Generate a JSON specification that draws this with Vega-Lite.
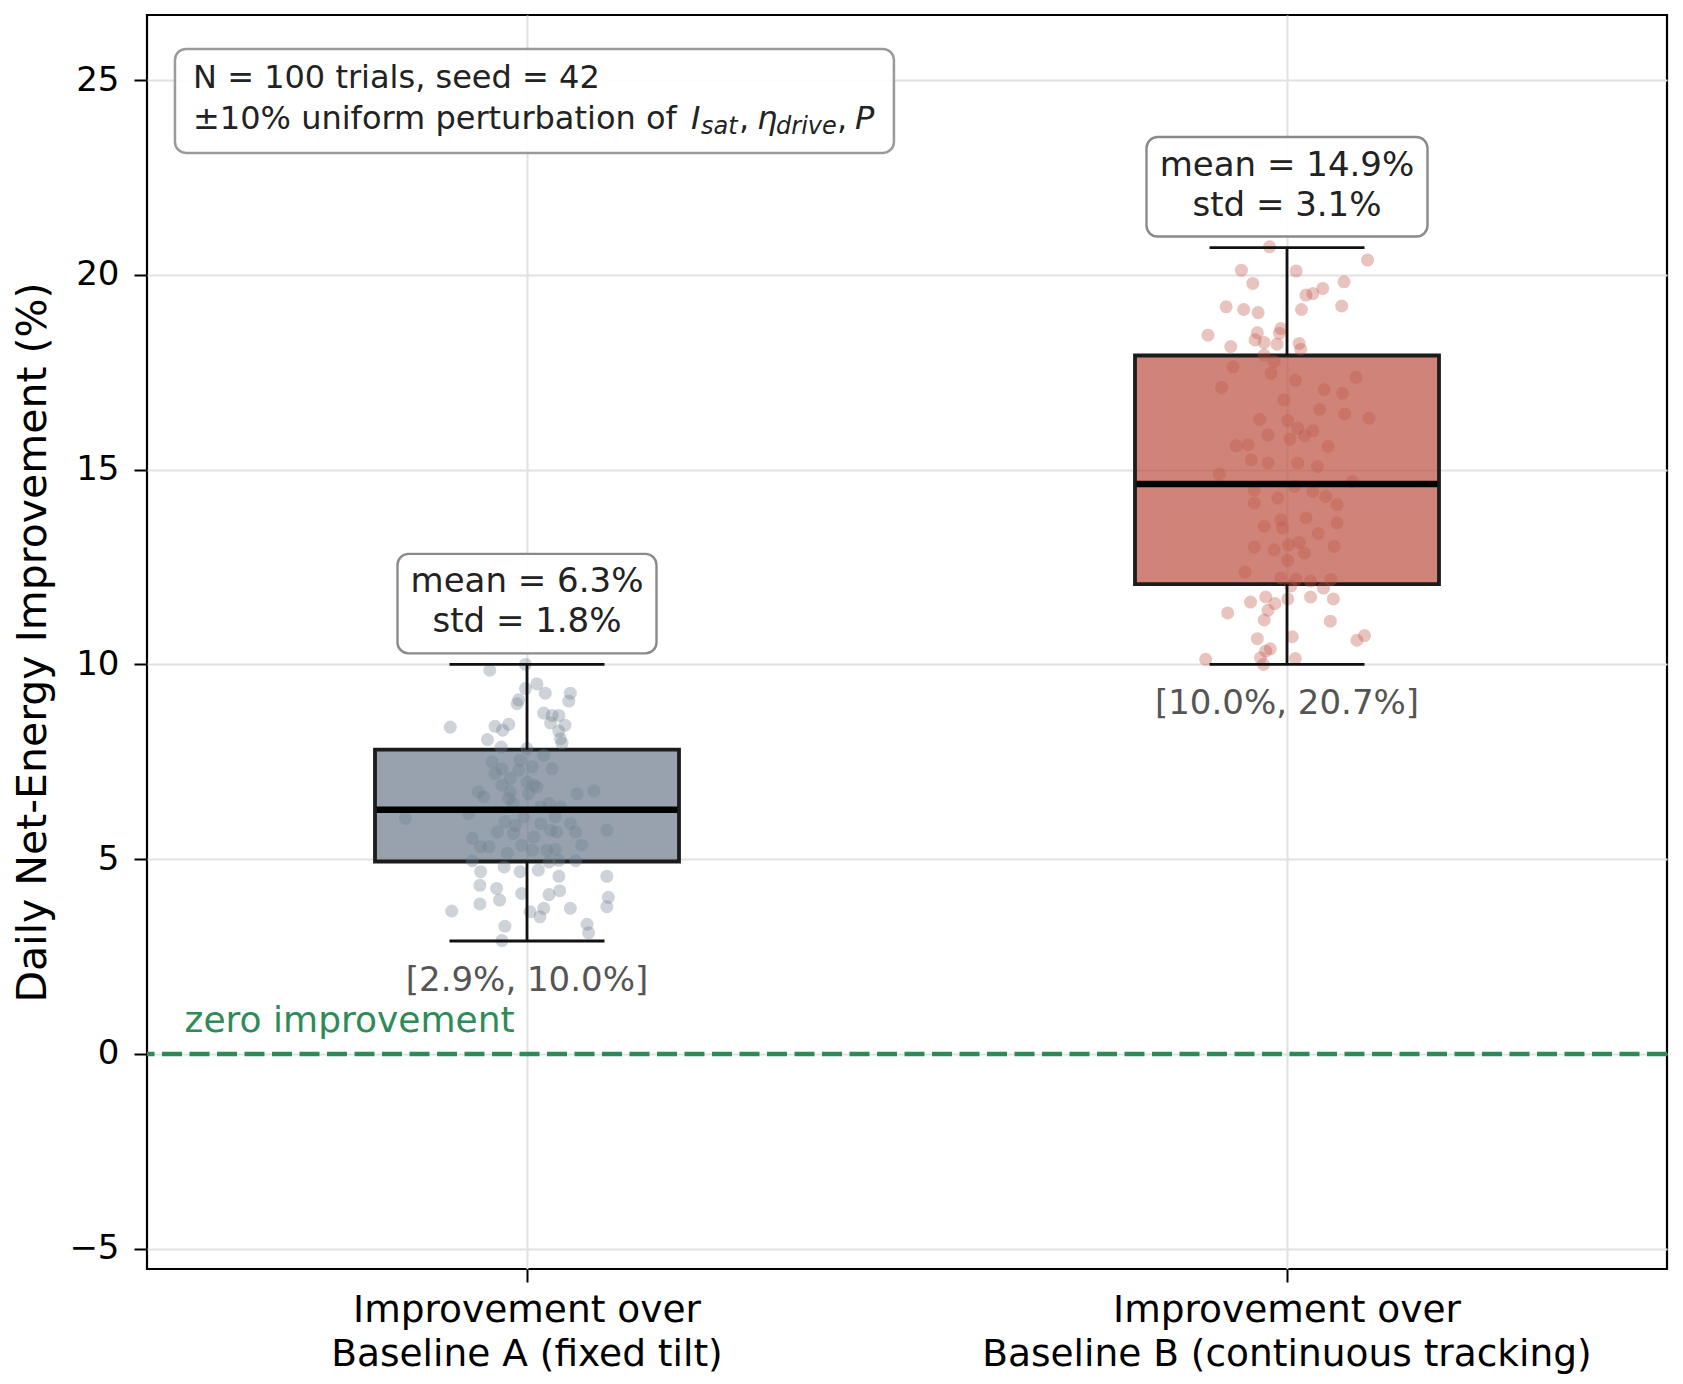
{
  "$schema": "https://vega.github.io/schema/vega-lite/v6.json",
  "width": 1520,
  "height": 1254,
  "autosize": {"type": "none"},
  "padding": {"left": 147, "top": 15, "right": 16, "bottom": 115},
  "background": "white",
  "config": {
    "font": "DejaVu Sans",
    "view": {"stroke": "black", "strokeWidth": 2.2},
    "axis": {
      "domain": false,
      "grid": true,
      "gridColor": "#e1e1e1",
      "gridWidth": 2,
      "tickColor": "black",
      "tickWidth": 2,
      "tickSize": 13,
      "labelColor": "black",
      "labelFont": "DejaVu Sans",
      "titleFont": "DejaVu Sans",
      "titleColor": "black",
      "titleFontWeight": "normal"
    }
  },
  "datasets": {
    "stats": [
      {"group": "A", "lo": 2.9, "q1": 4.94, "median": 6.27, "q3": 7.81, "hi": 10.0, "l1": "mean = 6.3%", "l2": "std = 1.8%", "range": "[2.9%, 10.0%]"},
      {"group": "B", "lo": 10.0, "q1": 12.06, "median": 14.63, "q3": 17.93, "hi": 20.7, "l1": "mean = 14.9%", "l2": "std = 3.1%", "range": "[10.0%, 20.7%]"}
    ],
    "points": [
      {"group": "A", "value": 10.00, "jitter": -0.002},
      {"group": "A", "value": 9.85, "jitter": -0.049},
      {"group": "A", "value": 9.50, "jitter": 0.013},
      {"group": "A", "value": 9.38, "jitter": -0.002},
      {"group": "A", "value": 9.26, "jitter": 0.024},
      {"group": "A", "value": 9.26, "jitter": 0.057},
      {"group": "A", "value": 9.09, "jitter": -0.011},
      {"group": "A", "value": 8.99, "jitter": -0.013},
      {"group": "A", "value": 9.06, "jitter": 0.055},
      {"group": "A", "value": 8.75, "jitter": 0.022},
      {"group": "A", "value": 8.69, "jitter": 0.033},
      {"group": "A", "value": 8.69, "jitter": 0.042},
      {"group": "A", "value": 8.50, "jitter": 0.031},
      {"group": "A", "value": 8.44, "jitter": 0.050},
      {"group": "A", "value": 8.39, "jitter": -0.101},
      {"group": "A", "value": 8.41, "jitter": -0.042},
      {"group": "A", "value": 8.46, "jitter": -0.024},
      {"group": "A", "value": 8.31, "jitter": -0.032},
      {"group": "A", "value": 8.29, "jitter": 0.042},
      {"group": "A", "value": 8.09, "jitter": 0.044},
      {"group": "A", "value": 8.07, "jitter": -0.052},
      {"group": "A", "value": 7.98, "jitter": 0.046},
      {"group": "A", "value": 7.88, "jitter": -0.034},
      {"group": "A", "value": 7.84, "jitter": 0.000},
      {"group": "A", "value": 7.50, "jitter": -0.046},
      {"group": "A", "value": 7.32, "jitter": -0.033},
      {"group": "A", "value": 7.37, "jitter": 0.007},
      {"group": "A", "value": 7.28, "jitter": -0.011},
      {"group": "A", "value": 7.32, "jitter": 0.033},
      {"group": "A", "value": 7.20, "jitter": -0.042},
      {"group": "A", "value": 7.07, "jitter": -0.022},
      {"group": "A", "value": 6.98, "jitter": 0.000},
      {"group": "A", "value": 6.90, "jitter": 0.009},
      {"group": "A", "value": 6.90, "jitter": -0.033},
      {"group": "A", "value": 6.73, "jitter": -0.064},
      {"group": "A", "value": 6.73, "jitter": -0.022},
      {"group": "A", "value": 6.68, "jitter": 0.002},
      {"group": "A", "value": 6.68, "jitter": 0.066},
      {"group": "A", "value": 6.75, "jitter": 0.088},
      {"group": "A", "value": 6.56, "jitter": -0.024},
      {"group": "A", "value": 6.43, "jitter": 0.029},
      {"group": "A", "value": 6.34, "jitter": 0.018},
      {"group": "A", "value": 6.17, "jitter": -0.077},
      {"group": "A", "value": 5.96, "jitter": -0.029},
      {"group": "A", "value": 5.87, "jitter": -0.015},
      {"group": "A", "value": 6.09, "jitter": 0.037},
      {"group": "A", "value": 5.74, "jitter": 0.031},
      {"group": "A", "value": 5.70, "jitter": 0.039},
      {"group": "A", "value": 5.70, "jitter": 0.064},
      {"group": "A", "value": 5.74, "jitter": 0.105},
      {"group": "A", "value": 5.53, "jitter": -0.072},
      {"group": "A", "value": 5.32, "jitter": -0.061},
      {"group": "A", "value": 5.32, "jitter": -0.050},
      {"group": "A", "value": 5.36, "jitter": -0.007},
      {"group": "A", "value": 5.23, "jitter": 0.007},
      {"group": "A", "value": 5.23, "jitter": 0.026},
      {"group": "A", "value": 5.25, "jitter": 0.037},
      {"group": "A", "value": 5.36, "jitter": 0.072},
      {"group": "A", "value": 4.97, "jitter": 0.042},
      {"group": "A", "value": 4.93, "jitter": 0.029},
      {"group": "A", "value": 4.96, "jitter": 0.064},
      {"group": "A", "value": 4.96, "jitter": -0.072},
      {"group": "A", "value": 4.68, "jitter": -0.061},
      {"group": "A", "value": 4.80, "jitter": -0.030},
      {"group": "A", "value": 4.68, "jitter": -0.009},
      {"group": "A", "value": 4.72, "jitter": 0.015},
      {"group": "A", "value": 4.56, "jitter": 0.042},
      {"group": "A", "value": 4.56, "jitter": 0.105},
      {"group": "A", "value": 4.33, "jitter": -0.062},
      {"group": "A", "value": 4.25, "jitter": -0.040},
      {"group": "A", "value": 4.12, "jitter": -0.007},
      {"group": "A", "value": 4.09, "jitter": 0.029},
      {"group": "A", "value": 4.19, "jitter": 0.043},
      {"group": "A", "value": 3.95, "jitter": -0.036},
      {"group": "A", "value": 3.85, "jitter": -0.062},
      {"group": "A", "value": 4.02, "jitter": 0.107},
      {"group": "A", "value": 3.78, "jitter": 0.105},
      {"group": "A", "value": 3.67, "jitter": -0.099},
      {"group": "A", "value": 3.65, "jitter": 0.004},
      {"group": "A", "value": 3.74, "jitter": 0.022},
      {"group": "A", "value": 3.52, "jitter": 0.017},
      {"group": "A", "value": 3.74, "jitter": 0.057},
      {"group": "A", "value": 3.28, "jitter": -0.029},
      {"group": "A", "value": 3.33, "jitter": 0.079},
      {"group": "A", "value": 3.11, "jitter": 0.081},
      {"group": "A", "value": 2.91, "jitter": -0.033},
      {"group": "A", "value": 7.54, "jitter": -0.009},
      {"group": "A", "value": 6.43, "jitter": -0.018},
      {"group": "A", "value": 6.85, "jitter": 0.013},
      {"group": "A", "value": 6.05, "jitter": -0.160},
      {"group": "A", "value": 6.09, "jitter": -0.004},
      {"group": "A", "value": 5.91, "jitter": 0.018},
      {"group": "A", "value": 5.66, "jitter": -0.018},
      {"group": "A", "value": 5.70, "jitter": -0.039},
      {"group": "A", "value": 5.57, "jitter": 0.009},
      {"group": "A", "value": 6.34, "jitter": 0.044},
      {"group": "A", "value": 6.60, "jitter": -0.057},
      {"group": "A", "value": 5.91, "jitter": 0.057},
      {"group": "A", "value": 5.15, "jitter": -0.026},
      {"group": "A", "value": 7.67, "jitter": 0.022},
      {"group": "B", "value": 20.72, "jitter": -0.023},
      {"group": "B", "value": 20.38, "jitter": 0.106},
      {"group": "B", "value": 20.12, "jitter": -0.060},
      {"group": "B", "value": 20.10, "jitter": 0.012},
      {"group": "B", "value": 19.78, "jitter": -0.045},
      {"group": "B", "value": 19.82, "jitter": 0.075},
      {"group": "B", "value": 19.65, "jitter": 0.047},
      {"group": "B", "value": 19.52, "jitter": 0.034},
      {"group": "B", "value": 19.48, "jitter": 0.025},
      {"group": "B", "value": 19.18, "jitter": -0.080},
      {"group": "B", "value": 19.11, "jitter": -0.057},
      {"group": "B", "value": 19.03, "jitter": -0.038},
      {"group": "B", "value": 19.11, "jitter": 0.019},
      {"group": "B", "value": 19.20, "jitter": 0.072},
      {"group": "B", "value": 18.45, "jitter": -0.104},
      {"group": "B", "value": 18.51, "jitter": -0.039},
      {"group": "B", "value": 18.62, "jitter": -0.008},
      {"group": "B", "value": 18.50, "jitter": -0.010},
      {"group": "B", "value": 18.33, "jitter": -0.042},
      {"group": "B", "value": 18.26, "jitter": -0.030},
      {"group": "B", "value": 18.22, "jitter": -0.013},
      {"group": "B", "value": 18.16, "jitter": -0.074},
      {"group": "B", "value": 18.24, "jitter": 0.016},
      {"group": "B", "value": 18.09, "jitter": 0.018},
      {"group": "B", "value": 17.94, "jitter": -0.030},
      {"group": "B", "value": 17.77, "jitter": -0.017},
      {"group": "B", "value": 17.64, "jitter": -0.071},
      {"group": "B", "value": 17.11, "jitter": -0.086},
      {"group": "B", "value": 17.30, "jitter": 0.011},
      {"group": "B", "value": 17.37, "jitter": 0.091},
      {"group": "B", "value": 16.96, "jitter": 0.073},
      {"group": "B", "value": 16.55, "jitter": 0.043},
      {"group": "B", "value": 16.43, "jitter": 0.076},
      {"group": "B", "value": 16.32, "jitter": 0.108},
      {"group": "B", "value": 16.29, "jitter": -0.036},
      {"group": "B", "value": 16.26, "jitter": 0.001},
      {"group": "B", "value": 16.06, "jitter": 0.014},
      {"group": "B", "value": 16.00, "jitter": 0.034},
      {"group": "B", "value": 15.89, "jitter": -0.025},
      {"group": "B", "value": 15.78, "jitter": 0.004},
      {"group": "B", "value": 15.87, "jitter": 0.023},
      {"group": "B", "value": 15.61, "jitter": -0.067},
      {"group": "B", "value": 15.64, "jitter": -0.051},
      {"group": "B", "value": 15.17, "jitter": 0.014},
      {"group": "B", "value": 14.89, "jitter": -0.089},
      {"group": "B", "value": 14.48, "jitter": -0.043},
      {"group": "B", "value": 14.70, "jitter": 0.086},
      {"group": "B", "value": 14.44, "jitter": 0.034},
      {"group": "B", "value": 14.31, "jitter": 0.051},
      {"group": "B", "value": 14.27, "jitter": -0.012},
      {"group": "B", "value": 14.14, "jitter": -0.043},
      {"group": "B", "value": 14.10, "jitter": 0.066},
      {"group": "B", "value": 13.71, "jitter": -0.008},
      {"group": "B", "value": 13.76, "jitter": 0.025},
      {"group": "B", "value": 13.63, "jitter": 0.066},
      {"group": "B", "value": 13.50, "jitter": -0.006},
      {"group": "B", "value": 13.36, "jitter": 0.041},
      {"group": "B", "value": 13.13, "jitter": 0.016},
      {"group": "B", "value": 13.07, "jitter": 0.002},
      {"group": "B", "value": 13.01, "jitter": -0.043},
      {"group": "B", "value": 13.03, "jitter": 0.062},
      {"group": "B", "value": 12.67, "jitter": 0.001},
      {"group": "B", "value": 12.37, "jitter": -0.055},
      {"group": "B", "value": 12.22, "jitter": -0.008},
      {"group": "B", "value": 12.18, "jitter": 0.012},
      {"group": "B", "value": 12.14, "jitter": 0.031},
      {"group": "B", "value": 12.18, "jitter": 0.058},
      {"group": "B", "value": 11.96, "jitter": 0.048},
      {"group": "B", "value": 12.01, "jitter": 0.005},
      {"group": "B", "value": 11.73, "jitter": -0.028},
      {"group": "B", "value": 11.60, "jitter": -0.048},
      {"group": "B", "value": 11.73, "jitter": 0.031},
      {"group": "B", "value": 11.68, "jitter": 0.061},
      {"group": "B", "value": 11.68, "jitter": 0.001},
      {"group": "B", "value": 11.56, "jitter": -0.016},
      {"group": "B", "value": 11.39, "jitter": -0.025},
      {"group": "B", "value": 11.32, "jitter": -0.078},
      {"group": "B", "value": 11.14, "jitter": -0.030},
      {"group": "B", "value": 11.11, "jitter": 0.057},
      {"group": "B", "value": 10.71, "jitter": 0.007},
      {"group": "B", "value": 10.66, "jitter": -0.039},
      {"group": "B", "value": 10.62, "jitter": 0.092},
      {"group": "B", "value": 10.74, "jitter": 0.102},
      {"group": "B", "value": 10.40, "jitter": -0.022},
      {"group": "B", "value": 10.34, "jitter": -0.028},
      {"group": "B", "value": 10.13, "jitter": -0.107},
      {"group": "B", "value": 10.17, "jitter": -0.035},
      {"group": "B", "value": 10.00, "jitter": -0.031},
      {"group": "B", "value": 10.15, "jitter": 0.011},
      {"group": "B", "value": 17.47, "jitter": -0.021},
      {"group": "B", "value": 16.79, "jitter": -0.004},
      {"group": "B", "value": 15.59, "jitter": 0.054},
      {"group": "B", "value": 15.17, "jitter": -0.025},
      {"group": "B", "value": 15.08, "jitter": 0.040},
      {"group": "B", "value": 14.57, "jitter": 0.010},
      {"group": "B", "value": 13.54, "jitter": -0.030},
      {"group": "B", "value": 12.86, "jitter": 0.023},
      {"group": "B", "value": 12.94, "jitter": -0.017},
      {"group": "B", "value": 15.25, "jitter": -0.047},
      {"group": "B", "value": 17.05, "jitter": 0.049}
    ]
  },
  "layer": [
    {
      "data": {"name": "stats"},
      "mark": {"type": "bar", "width": 304, "fillOpacity": 0.73, "stroke": "#1c1c1c", "strokeWidth": 3.8},
      "encoding": {
        "x": {
          "field": "group",
          "type": "nominal",
          "scale": {"domain": ["A", "B"], "paddingInner": 0, "paddingOuter": 0},
          "axis": {
            "title": null,
            "labelAngle": 0,
            "labelFontSize": 37.5,
            "labelLineHeight": 44,
            "labelPadding": 9,
            "labelBaseline": "top",
            "labelLimit": 1000,
            "bandPosition": 0.5,
            "labelExpr": "datum.value == 'A' ? ['Improvement over', 'Baseline A (fixed tilt)'] : ['Improvement over', 'Baseline B (continuous tracking)']"
          }
        },
        "y": {
          "field": "q1",
          "type": "quantitative",
          "scale": {"domain": [-5.52, 26.67], "nice": false, "zero": false},
          "axis": {
            "values": [-5, 0, 5, 10, 15, 20, 25],
            "title": "Daily Net-Energy Improvement (%)",
            "titleFontSize": 41,
            "titlePadding": 14,
            "labelFontSize": 34,
            "labelPadding": 15
          }
        },
        "y2": {"field": "q3"},
        "color": {
          "field": "group",
          "type": "nominal",
          "scale": {"domain": ["A", "B"], "range": ["#708090", "#bf5647"]},
          "legend": null
        }
      }
    },
    {
      "data": {"name": "points"},
      "mark": {"type": "circle", "size": 170, "opacity": 0.35},
      "encoding": {
        "x": {
          "field": "group",
          "type": "nominal",
          "scale": {"domain": ["A", "B"], "paddingInner": 0, "paddingOuter": 0},
          "axis": null
        },
        "xOffset": {"field": "jitter", "type": "quantitative", "scale": {"domain": [-0.5, 0.5]}},
        "y": {"field": "value", "type": "quantitative"},
        "color": {"field": "group", "type": "nominal", "legend": null}
      }
    },
    {
      "data": {"name": "stats"},
      "encoding": {
        "x": {
          "field": "group",
          "type": "nominal",
          "scale": {"domain": ["A", "B"], "paddingInner": 0, "paddingOuter": 0},
          "axis": null
        }
      },
      "layer": [
        {
          "mark": {"type": "rule", "color": "#111111", "strokeWidth": 2.8},
          "encoding": {
            "y": {"field": "lo", "type": "quantitative"},
            "y2": {"field": "q1"}
          }
        },
        {
          "mark": {"type": "rule", "color": "#111111", "strokeWidth": 2.8},
          "encoding": {
            "y": {"field": "q3", "type": "quantitative"},
            "y2": {"field": "hi"}
          }
        },
        {
          "mark": {"type": "tick", "color": "#111111", "size": 155, "thickness": 2.8, "opacity": 1},
          "encoding": {"y": {"field": "lo", "type": "quantitative"}}
        },
        {
          "mark": {"type": "tick", "color": "#111111", "size": 155, "thickness": 2.8, "opacity": 1},
          "encoding": {"y": {"field": "hi", "type": "quantitative"}}
        },
        {
          "mark": {"type": "tick", "color": "black", "size": 301, "thickness": 6.5, "opacity": 1},
          "encoding": {"y": {"field": "median", "type": "quantitative"}}
        },
        {
          "transform": [{"filter": "datum.group == 'A'"}],
          "mark": {"type": "bar", "width": 259, "fill": "white", "fillOpacity": 0.92, "stroke": "#8a8a8a", "strokeWidth": 2.4, "cornerRadius": 11, "yOffset": -110.5, "y2Offset": -11},
          "encoding": {
            "y": {"field": "hi", "type": "quantitative"},
            "y2": {"field": "hi"}
          }
        },
        {
          "transform": [{"filter": "datum.group == 'B'"}],
          "mark": {"type": "bar", "width": 281, "fill": "white", "fillOpacity": 0.92, "stroke": "#8a8a8a", "strokeWidth": 2.4, "cornerRadius": 11, "yOffset": -110.5, "y2Offset": -11},
          "encoding": {
            "y": {"field": "hi", "type": "quantitative"},
            "y2": {"field": "hi"}
          }
        },
        {
          "mark": {"type": "text", "fontSize": 34, "color": "#222222", "baseline": "middle", "dy": -82},
          "encoding": {
            "y": {"field": "hi", "type": "quantitative"},
            "text": {"field": "l1"}
          }
        },
        {
          "mark": {"type": "text", "fontSize": 34, "color": "#222222", "baseline": "middle", "dy": -42},
          "encoding": {
            "y": {"field": "hi", "type": "quantitative"},
            "text": {"field": "l2"}
          }
        },
        {
          "mark": {"type": "text", "fontSize": 34, "color": "#555555", "baseline": "middle", "dy": 40},
          "encoding": {
            "y": {"field": "lo", "type": "quantitative"},
            "text": {"field": "range"}
          }
        }
      ]
    },
    {
      "data": {"values": [{}]},
      "layer": [
        {
          "mark": {"type": "rule", "color": "#2e8b57", "strokeWidth": 4.5, "strokeDash": [20, 7.5]},
          "encoding": {"y": {"datum": 0, "type": "quantitative"}}
        },
        {
          "mark": {"type": "text", "align": "left", "baseline": "middle", "fontSize": 36, "color": "#2e8b57", "dy": -33, "text": "zero improvement"},
          "encoding": {
            "x": {"datum": 0.0247, "type": "quantitative", "scale": {"domain": [0, 1]}, "axis": null},
            "y": {"datum": 0, "type": "quantitative"}
          }
        },
        {
          "mark": {"type": "rect", "fill": "white", "fillOpacity": 0.9, "stroke": "#9a9a9a", "strokeWidth": 2.5, "cornerRadius": 11},
          "encoding": {
            "x": {"datum": 0.0184, "type": "quantitative"},
            "x2": {"datum": 0.4914},
            "y": {"datum": 25.8, "type": "quantitative"},
            "y2": {"datum": 23.13}
          }
        },
        {
          "mark": {"type": "text", "align": "left", "baseline": "middle", "fontSize": 32, "color": "#222222", "text": "N = 100 trials, seed = 42"},
          "encoding": {
            "x": {"datum": 0.0303, "type": "quantitative"},
            "y": {"datum": 25.04, "type": "quantitative"}
          }
        },
        {
          "mark": {"type": "text", "align": "left", "baseline": "middle", "fontSize": 32, "color": "#222222", "text": "±10% uniform perturbation of"},
          "encoding": {
            "x": {"datum": 0.0303, "type": "quantitative"},
            "y": {"datum": 24.0, "type": "quantitative"}
          }
        },
        {
          "mark": {"type": "text", "align": "left", "baseline": "middle", "fontSize": 32, "fontStyle": "italic", "color": "#222222", "dx": 498, "text": "I"},
          "encoding": {
            "x": {"datum": 0.0303, "type": "quantitative"},
            "y": {"datum": 24.0, "type": "quantitative"}
          }
        },
        {
          "mark": {"type": "text", "align": "left", "baseline": "middle", "fontSize": 24, "fontStyle": "italic", "color": "#222222", "dx": 508, "dy": 8, "text": "sat"},
          "encoding": {
            "x": {"datum": 0.0303, "type": "quantitative"},
            "y": {"datum": 24.0, "type": "quantitative"}
          }
        },
        {
          "mark": {"type": "text", "align": "left", "baseline": "middle", "fontSize": 32, "color": "#222222", "dx": 546, "text": ","},
          "encoding": {
            "x": {"datum": 0.0303, "type": "quantitative"},
            "y": {"datum": 24.0, "type": "quantitative"}
          }
        },
        {
          "mark": {"type": "text", "align": "left", "baseline": "middle", "fontSize": 32, "fontStyle": "italic", "color": "#222222", "dx": 564, "text": "η"},
          "encoding": {
            "x": {"datum": 0.0303, "type": "quantitative"},
            "y": {"datum": 24.0, "type": "quantitative"}
          }
        },
        {
          "mark": {"type": "text", "align": "left", "baseline": "middle", "fontSize": 24, "fontStyle": "italic", "color": "#222222", "dx": 583, "dy": 8, "text": "drive"},
          "encoding": {
            "x": {"datum": 0.0303, "type": "quantitative"},
            "y": {"datum": 24.0, "type": "quantitative"}
          }
        },
        {
          "mark": {"type": "text", "align": "left", "baseline": "middle", "fontSize": 32, "color": "#222222", "dx": 644, "text": ","},
          "encoding": {
            "x": {"datum": 0.0303, "type": "quantitative"},
            "y": {"datum": 24.0, "type": "quantitative"}
          }
        },
        {
          "mark": {"type": "text", "align": "left", "baseline": "middle", "fontSize": 32, "fontStyle": "italic", "color": "#222222", "dx": 662, "text": "P"},
          "encoding": {
            "x": {"datum": 0.0303, "type": "quantitative"},
            "y": {"datum": 24.0, "type": "quantitative"}
          }
        }
      ]
    }
  ],
  "resolve": {"scale": {"x": "independent"}}
}
